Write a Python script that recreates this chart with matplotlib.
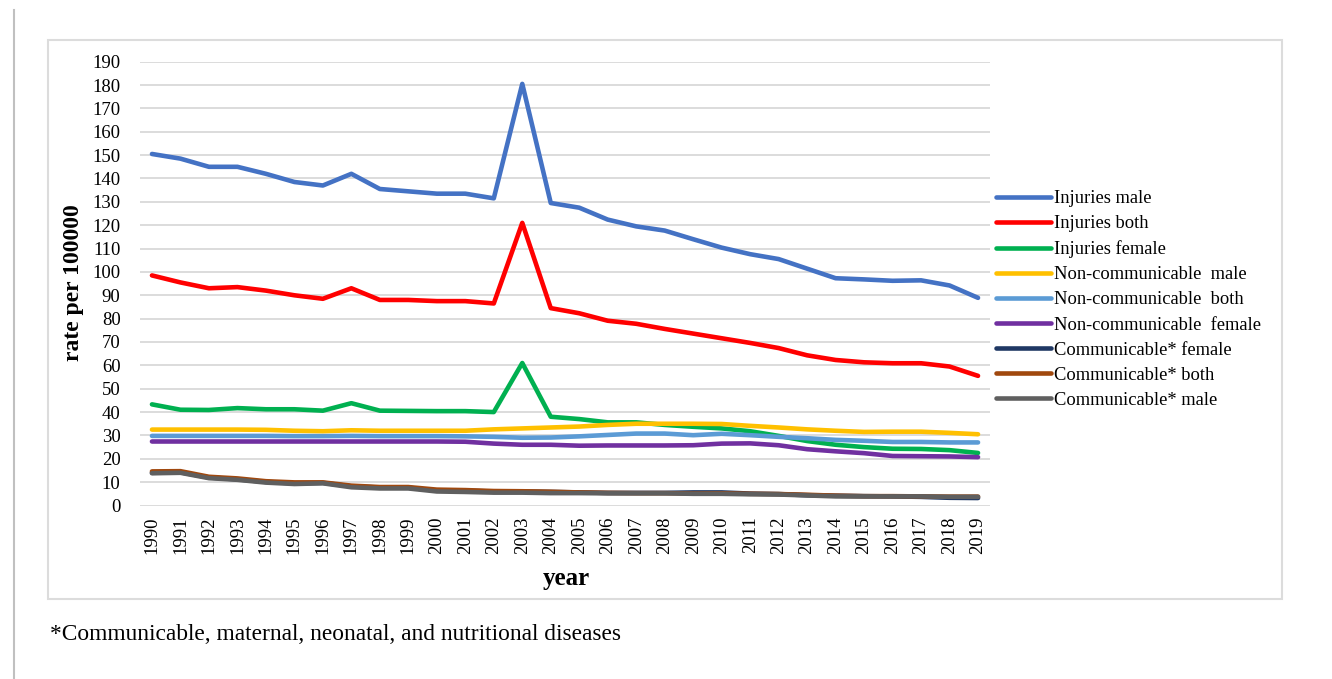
import matplotlib
matplotlib.use("Agg")
import matplotlib.pyplot as plt
from matplotlib.patches import Rectangle
from matplotlib.lines import Line2D
import numpy as np

plt.rcParams["font.family"] = ["Liberation Serif", "DejaVu Serif"]

years = list(range(1990, 2020))

injuries_male = [150.5, 148.5, 145, 145, 142, 138.5, 137, 142, 135.5, 134.5, 133.5, 133.5, 131.5, 180.5, 129.5,
                 127.5, 122.4, 119.5, 117.7, 114, 110.4, 107.6, 105.5, 101.4, 97.3, 96.8, 96.2, 96.4, 94.2, 88.9]
injuries_both = [98.5, 95.5, 93, 93.5, 92, 90, 88.5, 93, 88, 88, 87.5, 87.5, 86.5, 121, 84.5,
                 82.3, 79.1, 77.8, 75.6, 73.6, 71.6, 69.6, 67.4, 64.3, 62.3, 61.3, 60.9, 60.9, 59.5, 55.5]
injuries_female = [43.3, 41.0, 40.9, 41.7, 41.2, 41.2, 40.6, 43.8, 40.6, 40.5, 40.4, 40.4, 40.0, 61, 38.0,
                   37.0, 35.6, 35.6, 34.5, 33.7, 33.0, 31.8, 29.8, 27.6, 26.0, 25.0, 24.3, 24.2, 23.7, 22.5]
noncomm_male = [32.5, 32.5, 32.5, 32.5, 32.4, 32.0, 31.8, 32.2, 32.0, 32.0, 32.0, 32.0, 32.6, 33.0, 33.4,
                33.8, 34.5, 35.0, 35.0, 35.0, 34.9, 34.1, 33.4, 32.6, 32.0, 31.5, 31.6, 31.6, 31.1, 30.5]
noncomm_both = [29.8, 29.8, 29.8, 29.8, 29.8, 29.7, 29.7, 29.8, 29.7, 29.7, 29.7, 29.6, 29.4, 29.0, 29.1,
                29.6, 30.2, 30.8, 30.8, 30.1, 30.7, 30.1, 29.4, 28.8, 28.1, 27.7, 27.2, 27.2, 27.0, 27.0]
noncomm_female = [27.4, 27.4, 27.4, 27.4, 27.4, 27.4, 27.4, 27.4, 27.4, 27.4, 27.4, 27.3, 26.5, 26.0, 26.0,
                  25.6, 25.7, 25.7, 25.7, 25.8, 26.5, 26.6, 25.8, 24.1, 23.2, 22.4, 21.2, 21.1, 21.0, 20.7]
comm_female = [14.0, 14.2, 12.0, 11.2, 10.1, 9.5, 9.7, 8.2, 7.7, 7.6, 6.4, 6.3, 6.0, 6.0, 5.8,
               5.6, 5.4, 5.4, 5.4, 5.6, 5.6, 5.1, 4.9, 4.4, 4.2, 4.0, 3.9, 3.7, 3.3, 3.2]
comm_both = [14.6, 14.7, 12.3, 11.6, 10.4, 9.9, 9.9, 8.5, 7.9, 7.9, 6.8, 6.6, 6.2, 6.1, 5.9,
             5.6, 5.4, 5.3, 5.3, 5.1, 5.2, 5.0, 4.9, 4.6, 4.2, 4.0, 4.0, 3.9, 3.8, 3.8]
comm_male = [13.8, 14.0, 11.7, 11.0, 9.8, 9.2, 9.5, 7.8, 7.3, 7.3, 6.0, 5.8, 5.5, 5.5, 5.3,
             5.3, 5.2, 5.2, 5.2, 5.0, 5.0, 4.8, 4.7, 4.3, 3.9, 3.9, 3.9, 3.9, 3.7, 3.7]

series = [
    ("Injuries male", injuries_male, "#4472C4"),
    ("Injuries both", injuries_both, "#FF0000"),
    ("Injuries female", injuries_female, "#00B050"),
    ("Non-communicable  male", noncomm_male, "#FFC000"),
    ("Non-communicable  both", noncomm_both, "#5B9BD5"),
    ("Non-communicable  female", noncomm_female, "#7030A0"),
    ("Communicable* female", comm_female, "#1F3864"),
    ("Communicable* both", comm_both, "#A0480E"),
    ("Communicable* male", comm_male, "#5F5F5F"),
]

W, H = 1332, 679
fig = plt.figure(figsize=(W / 100, H / 100), dpi=100)

# page line at left and chart border
fig.add_artist(Line2D([14 / W, 14 / W], [0, 1 - 10 / H], color="#c0c0c0", lw=1.5))
fig.add_artist(Rectangle((48 / W, 1 - 599 / H), 1234 / W, 559 / H, fill=False,
                         edgecolor="#dcdcdc", lw=1.5))

ax = fig.add_axes([140 / W, 1 - 505.5 / H, 850 / W, 443.8 / H])
for label, vals, col in series:
    ax.plot(years, vals, color=col, lw=3.3, label=label, solid_capstyle="round")

ax.set_ylim(0, 190)
ax.set_xlim(1989.58, 2019.42)
ax.set_yticks(np.arange(0, 191, 10))
ax.set_xticks(years)
ax.set_xticklabels([str(y) for y in years], rotation=90)
ax.tick_params(axis="both", length=0, labelsize=13.5)
ax.tick_params(axis="y", pad=14)
ax.tick_params(axis="x", pad=8)
for s in ax.spines.values():
    s.set_visible(False)
ax.yaxis.grid(True, color="#d9d9d9", lw=1.3)
ax.set_axisbelow(True)

fig.text(73 / W, 1 - 283 / H, "rate per 100000", rotation=90, ha="center", va="center",
         fontsize=17, fontweight="bold")
fig.text(566 / W, 1 - 578 / H, "year", ha="center", va="center", fontsize=18, fontweight="bold")

fig.legend(loc="upper left", bbox_to_anchor=(996 / W, 1 - 190 / H), frameon=False,
           fontsize=13.3, handlelength=3.0, handletextpad=0.15, labelspacing=0.44,
           borderpad=0, borderaxespad=0)

fig.text(50 / W, 1 - 635 / H, "*Communicable, maternal, neonatal, and nutritional diseases",
         ha="left", va="center", fontsize=16.8)

fig.savefig("out.png", dpi=100)
